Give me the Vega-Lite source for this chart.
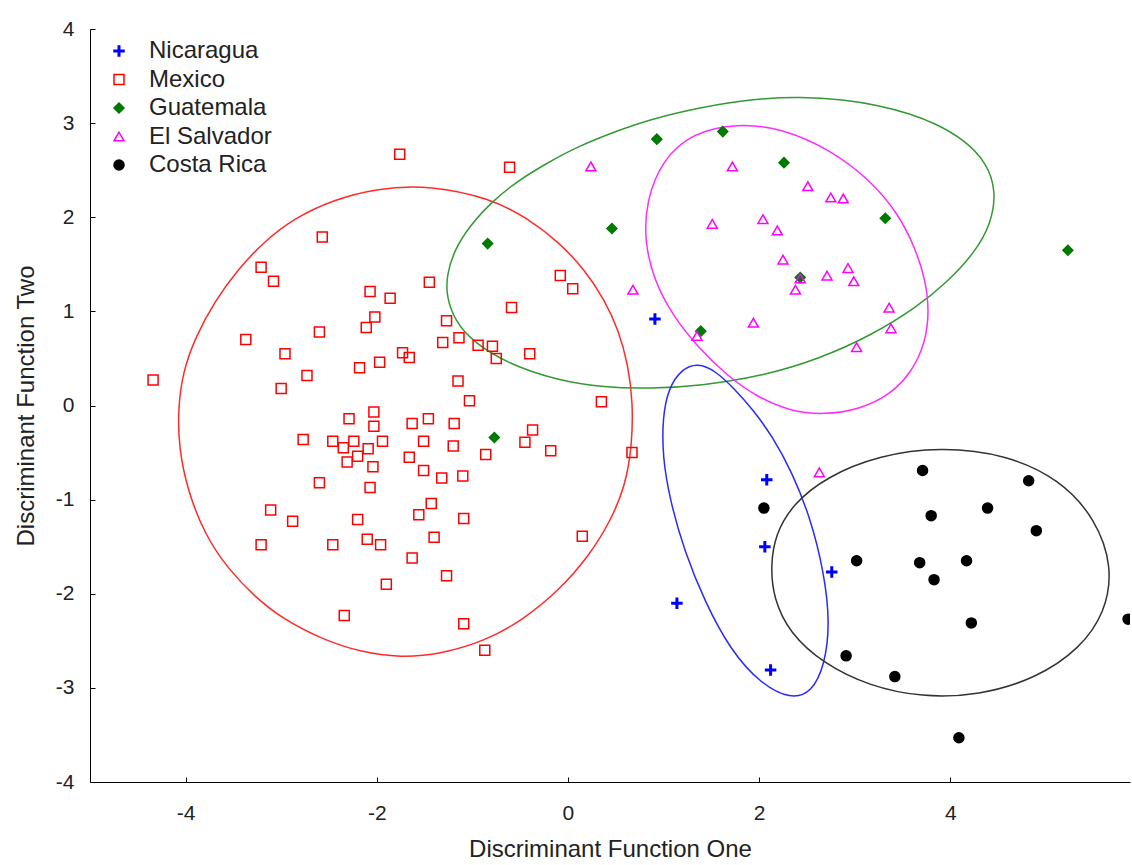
{
  "$schema": "https://vega.github.io/schema/vega-lite/v6.json",
  "width": 1040,
  "height": 753,
  "autosize": {"type": "none"},
  "padding": {"left": 90, "top": 29, "right": 2, "bottom": 83},
  "background": "white",
  "config": {
    "view": {"stroke": null},
    "font": "Liberation Sans",
    "axis": {
      "grid": false,
      "domainColor": "#000000",
      "domainWidth": 1,
      "tickColor": "#000000",
      "tickWidth": 1,
      "tickSize": -5,
      "labelFont": "Liberation Sans",
      "labelFontSize": 21,
      "labelColor": "#222222",
      "labelExpr": "'' + datum.value",
      "titleFont": "Liberation Sans",
      "titleFontSize": 24,
      "titleFontWeight": "normal",
      "titleColor": "#222222"
    },
    "legend": {
      "orient": "none",
      "legendX": 17,
      "legendY": 10,
      "labelFont": "Liberation Sans",
      "labelFontSize": 24,
      "labelColor": "#222222",
      "labelOffset": 18,
      "rowPadding": 4.5,
      "padding": 0,
      "symbolStrokeWidth": 1.5
    }
  },
  "datasets": {
    "points": [
      {"country": "Mexico", "x": -4.34, "y": 0.27},
      {"country": "Mexico", "x": -2.57, "y": 1.79},
      {"country": "Mexico", "x": -3.21, "y": 1.47},
      {"country": "Mexico", "x": -3.08, "y": 1.32},
      {"country": "Mexico", "x": -2.07, "y": 1.21},
      {"country": "Mexico", "x": -2.02, "y": 0.94},
      {"country": "Mexico", "x": -2.11, "y": 0.83},
      {"country": "Mexico", "x": -2.60, "y": 0.78},
      {"country": "Mexico", "x": -3.37, "y": 0.70},
      {"country": "Mexico", "x": -2.96, "y": 0.55},
      {"country": "Mexico", "x": -2.18, "y": 0.40},
      {"country": "Mexico", "x": -1.97, "y": 0.46},
      {"country": "Mexico", "x": -2.73, "y": 0.32},
      {"country": "Mexico", "x": -1.45, "y": 1.31},
      {"country": "Mexico", "x": -1.86, "y": 1.14},
      {"country": "Mexico", "x": -1.27, "y": 0.90},
      {"country": "Mexico", "x": -1.31, "y": 0.67},
      {"country": "Mexico", "x": -1.73, "y": 0.56},
      {"country": "Mexico", "x": -1.66, "y": 0.51},
      {"country": "Mexico", "x": -3.00, "y": 0.18},
      {"country": "Mexico", "x": -2.29, "y": -0.14},
      {"country": "Mexico", "x": -2.03, "y": -0.07},
      {"country": "Mexico", "x": -2.03, "y": -0.22},
      {"country": "Mexico", "x": -1.63, "y": -0.19},
      {"country": "Mexico", "x": -1.46, "y": -0.14},
      {"country": "Mexico", "x": -1.19, "y": -0.19},
      {"country": "Mexico", "x": -2.77, "y": -0.36},
      {"country": "Mexico", "x": -2.46, "y": -0.38},
      {"country": "Mexico", "x": -2.24, "y": -0.38},
      {"country": "Mexico", "x": -1.94, "y": -0.38},
      {"country": "Mexico", "x": -1.51, "y": -0.38},
      {"country": "Mexico", "x": -1.20, "y": -0.43},
      {"country": "Mexico", "x": -2.35, "y": -0.45},
      {"country": "Mexico", "x": -2.09, "y": -0.46},
      {"country": "Mexico", "x": -2.20, "y": -0.54},
      {"country": "Mexico", "x": -2.31, "y": -0.60},
      {"country": "Mexico", "x": -2.04, "y": -0.65},
      {"country": "Mexico", "x": -1.66, "y": -0.55},
      {"country": "Mexico", "x": -1.51, "y": -0.69},
      {"country": "Mexico", "x": -1.32, "y": -0.77},
      {"country": "Mexico", "x": -1.10, "y": -0.75},
      {"country": "Mexico", "x": -0.86, "y": -0.52},
      {"country": "Mexico", "x": -1.15, "y": 0.26},
      {"country": "Mexico", "x": -1.03, "y": 0.05},
      {"country": "Mexico", "x": -2.60, "y": -0.82},
      {"country": "Mexico", "x": -2.07, "y": -0.87},
      {"country": "Mexico", "x": -3.11, "y": -1.11},
      {"country": "Mexico", "x": -2.88, "y": -1.23},
      {"country": "Mexico", "x": -2.20, "y": -1.21},
      {"country": "Mexico", "x": -1.43, "y": -1.04},
      {"country": "Mexico", "x": -1.56, "y": -1.16},
      {"country": "Mexico", "x": -1.09, "y": -1.20},
      {"country": "Mexico", "x": -3.21, "y": -1.48},
      {"country": "Mexico", "x": -2.46, "y": -1.48},
      {"country": "Mexico", "x": -2.10, "y": -1.42},
      {"country": "Mexico", "x": -1.96, "y": -1.48},
      {"country": "Mexico", "x": -1.40, "y": -1.40},
      {"country": "Mexico", "x": -1.63, "y": -1.62},
      {"country": "Mexico", "x": -1.27, "y": -1.81},
      {"country": "Mexico", "x": -1.90, "y": -1.90},
      {"country": "Mexico", "x": -2.34, "y": -2.23},
      {"country": "Mexico", "x": -1.09, "y": -2.32},
      {"country": "Mexico", "x": 0.35, "y": 0.04},
      {"country": "Mexico", "x": -0.37, "y": -0.26},
      {"country": "Mexico", "x": -0.45, "y": -0.39},
      {"country": "Mexico", "x": -0.18, "y": -0.48},
      {"country": "Mexico", "x": 0.67, "y": -0.50},
      {"country": "Mexico", "x": 0.15, "y": -1.39},
      {"country": "Mexico", "x": -1.76, "y": 2.67},
      {"country": "Mexico", "x": -0.61, "y": 2.53},
      {"country": "Mexico", "x": -0.08, "y": 1.38},
      {"country": "Mexico", "x": 0.05, "y": 1.24},
      {"country": "Mexico", "x": -0.59, "y": 1.04},
      {"country": "Mexico", "x": -1.14, "y": 0.72},
      {"country": "Mexico", "x": -0.94, "y": 0.64},
      {"country": "Mexico", "x": -0.79, "y": 0.63},
      {"country": "Mexico", "x": -0.75, "y": 0.50},
      {"country": "Mexico", "x": -0.40, "y": 0.55},
      {"country": "Mexico", "x": -0.87, "y": -2.60},
      {"country": "Nicaragua", "x": 0.91, "y": 0.92},
      {"country": "Nicaragua", "x": 2.08, "y": -0.79},
      {"country": "Nicaragua", "x": 2.06, "y": -1.50},
      {"country": "Nicaragua", "x": 2.76, "y": -1.77},
      {"country": "Nicaragua", "x": 1.14, "y": -2.10},
      {"country": "Nicaragua", "x": 2.12, "y": -2.81},
      {"country": "Guatemala", "x": -0.84, "y": 1.72},
      {"country": "Guatemala", "x": -0.77, "y": -0.34},
      {"country": "Guatemala", "x": 0.46, "y": 1.88},
      {"country": "Guatemala", "x": 0.93, "y": 2.83},
      {"country": "Guatemala", "x": 1.62, "y": 2.91},
      {"country": "Guatemala", "x": 2.26, "y": 2.58},
      {"country": "Guatemala", "x": 3.32, "y": 1.99},
      {"country": "Guatemala", "x": 1.39, "y": 0.79},
      {"country": "Guatemala", "x": 2.43, "y": 1.36},
      {"country": "Guatemala", "x": 5.23, "y": 1.65},
      {"country": "El Salvador", "x": 0.24, "y": 2.54},
      {"country": "El Salvador", "x": 1.72, "y": 2.54},
      {"country": "El Salvador", "x": 2.51, "y": 2.33},
      {"country": "El Salvador", "x": 2.75, "y": 2.21},
      {"country": "El Salvador", "x": 2.88, "y": 2.20},
      {"country": "El Salvador", "x": 1.51, "y": 1.93},
      {"country": "El Salvador", "x": 2.04, "y": 1.98},
      {"country": "El Salvador", "x": 2.19, "y": 1.86},
      {"country": "El Salvador", "x": 2.25, "y": 1.55},
      {"country": "El Salvador", "x": 2.93, "y": 1.46},
      {"country": "El Salvador", "x": 2.71, "y": 1.38},
      {"country": "El Salvador", "x": 2.99, "y": 1.32},
      {"country": "El Salvador", "x": 2.43, "y": 1.35},
      {"country": "El Salvador", "x": 2.38, "y": 1.23},
      {"country": "El Salvador", "x": 0.68, "y": 1.23},
      {"country": "El Salvador", "x": 3.36, "y": 1.04},
      {"country": "El Salvador", "x": 3.38, "y": 0.82},
      {"country": "El Salvador", "x": 1.94, "y": 0.88},
      {"country": "El Salvador", "x": 1.35, "y": 0.74},
      {"country": "El Salvador", "x": 3.02, "y": 0.62},
      {"country": "El Salvador", "x": 2.63, "y": -0.71},
      {"country": "Costa Rica", "x": 3.71, "y": -0.69},
      {"country": "Costa Rica", "x": 4.82, "y": -0.80},
      {"country": "Costa Rica", "x": 2.05, "y": -1.09},
      {"country": "Costa Rica", "x": 4.39, "y": -1.09},
      {"country": "Costa Rica", "x": 3.80, "y": -1.17},
      {"country": "Costa Rica", "x": 4.90, "y": -1.33},
      {"country": "Costa Rica", "x": 3.02, "y": -1.65},
      {"country": "Costa Rica", "x": 3.68, "y": -1.67},
      {"country": "Costa Rica", "x": 4.17, "y": -1.65},
      {"country": "Costa Rica", "x": 3.83, "y": -1.85},
      {"country": "Costa Rica", "x": 4.22, "y": -2.31},
      {"country": "Costa Rica", "x": 5.86, "y": -2.27},
      {"country": "Costa Rica", "x": 2.91, "y": -2.66},
      {"country": "Costa Rica", "x": 3.42, "y": -2.88},
      {"country": "Costa Rica", "x": 4.09, "y": -3.53}
    ],
    "ellipses": [
      {"g": "Mexico", "i": 0, "x": -1.43, "y": 2.34},
      {"g": "Mexico", "i": 1, "x": -0.81, "y": 2.20},
      {"g": "Mexico", "i": 2, "x": -0.42, "y": 1.99},
      {"g": "Mexico", "i": 3, "x": -0.10, "y": 1.74},
      {"g": "Mexico", "i": 4, "x": 0.17, "y": 1.45},
      {"g": "Mexico", "i": 5, "x": 0.38, "y": 1.13},
      {"g": "Mexico", "i": 6, "x": 0.53, "y": 0.80},
      {"g": "Mexico", "i": 7, "x": 0.63, "y": 0.43},
      {"g": "Mexico", "i": 8, "x": 0.68, "y": 0.03},
      {"g": "Mexico", "i": 9, "x": 0.67, "y": -0.43},
      {"g": "Mexico", "i": 10, "x": 0.60, "y": -0.85},
      {"g": "Mexico", "i": 11, "x": 0.45, "y": -1.22},
      {"g": "Mexico", "i": 12, "x": 0.22, "y": -1.60},
      {"g": "Mexico", "i": 13, "x": -0.10, "y": -1.97},
      {"g": "Mexico", "i": 14, "x": -0.46, "y": -2.27},
      {"g": "Mexico", "i": 15, "x": -0.86, "y": -2.50},
      {"g": "Mexico", "i": 16, "x": -1.33, "y": -2.64},
      {"g": "Mexico", "i": 17, "x": -1.75, "y": -2.68},
      {"g": "Mexico", "i": 18, "x": -2.17, "y": -2.62},
      {"g": "Mexico", "i": 19, "x": -2.58, "y": -2.48},
      {"g": "Mexico", "i": 20, "x": -2.98, "y": -2.27},
      {"g": "Mexico", "i": 21, "x": -3.28, "y": -2.03},
      {"g": "Mexico", "i": 22, "x": -3.56, "y": -1.73},
      {"g": "Mexico", "i": 23, "x": -3.80, "y": -1.37},
      {"g": "Mexico", "i": 24, "x": -3.98, "y": -0.90},
      {"g": "Mexico", "i": 25, "x": -4.07, "y": -0.45},
      {"g": "Mexico", "i": 26, "x": -4.08, "y": -0.05},
      {"g": "Mexico", "i": 27, "x": -4.03, "y": 0.36},
      {"g": "Mexico", "i": 28, "x": -3.89, "y": 0.74},
      {"g": "Mexico", "i": 29, "x": -3.70, "y": 1.10},
      {"g": "Mexico", "i": 30, "x": -3.45, "y": 1.45},
      {"g": "Mexico", "i": 31, "x": -3.17, "y": 1.75},
      {"g": "Mexico", "i": 32, "x": -2.86, "y": 1.99},
      {"g": "Mexico", "i": 33, "x": -2.47, "y": 2.18},
      {"g": "Mexico", "i": 34, "x": -2.00, "y": 2.31},
      {"g": "Guatemala", "i": 0, "x": 0.52, "y": 2.92},
      {"g": "Guatemala", "i": 1, "x": 0.86, "y": 3.04},
      {"g": "Guatemala", "i": 2, "x": 1.39, "y": 3.17},
      {"g": "Guatemala", "i": 3, "x": 1.95, "y": 3.26},
      {"g": "Guatemala", "i": 4, "x": 2.44, "y": 3.28},
      {"g": "Guatemala", "i": 5, "x": 2.88, "y": 3.25},
      {"g": "Guatemala", "i": 6, "x": 3.25, "y": 3.19},
      {"g": "Guatemala", "i": 7, "x": 3.58, "y": 3.10},
      {"g": "Guatemala", "i": 8, "x": 3.86, "y": 2.99},
      {"g": "Guatemala", "i": 9, "x": 4.15, "y": 2.82},
      {"g": "Guatemala", "i": 10, "x": 4.38, "y": 2.58},
      {"g": "Guatemala", "i": 11, "x": 4.48, "y": 2.28},
      {"g": "Guatemala", "i": 12, "x": 4.43, "y": 1.94},
      {"g": "Guatemala", "i": 13, "x": 4.26, "y": 1.63},
      {"g": "Guatemala", "i": 14, "x": 3.98, "y": 1.32},
      {"g": "Guatemala", "i": 15, "x": 3.63, "y": 1.03},
      {"g": "Guatemala", "i": 16, "x": 3.20, "y": 0.76},
      {"g": "Guatemala", "i": 17, "x": 2.62, "y": 0.49},
      {"g": "Guatemala", "i": 18, "x": 2.02, "y": 0.31},
      {"g": "Guatemala", "i": 19, "x": 1.39, "y": 0.21},
      {"g": "Guatemala", "i": 20, "x": 0.87, "y": 0.18},
      {"g": "Guatemala", "i": 21, "x": 0.38, "y": 0.19},
      {"g": "Guatemala", "i": 22, "x": -0.12, "y": 0.27},
      {"g": "Guatemala", "i": 23, "x": -0.62, "y": 0.44},
      {"g": "Guatemala", "i": 24, "x": -1.00, "y": 0.68},
      {"g": "Guatemala", "i": 25, "x": -1.18, "y": 0.90},
      {"g": "Guatemala", "i": 26, "x": -1.27, "y": 1.15},
      {"g": "Guatemala", "i": 27, "x": -1.27, "y": 1.38},
      {"g": "Guatemala", "i": 28, "x": -1.19, "y": 1.65},
      {"g": "Guatemala", "i": 29, "x": -1.02, "y": 1.92},
      {"g": "Guatemala", "i": 30, "x": -0.80, "y": 2.16},
      {"g": "Guatemala", "i": 31, "x": -0.55, "y": 2.37},
      {"g": "Guatemala", "i": 32, "x": -0.23, "y": 2.57},
      {"g": "Guatemala", "i": 33, "x": 0.12, "y": 2.76},
      {"g": "El Salvador", "i": 0, "x": 1.78, "y": 3.00},
      {"g": "El Salvador", "i": 1, "x": 2.25, "y": 2.94},
      {"g": "El Salvador", "i": 2, "x": 2.74, "y": 2.72},
      {"g": "El Salvador", "i": 3, "x": 3.17, "y": 2.39},
      {"g": "El Salvador", "i": 4, "x": 3.46, "y": 2.03},
      {"g": "El Salvador", "i": 5, "x": 3.63, "y": 1.68},
      {"g": "El Salvador", "i": 6, "x": 3.74, "y": 1.34},
      {"g": "El Salvador", "i": 7, "x": 3.78, "y": 1.00},
      {"g": "El Salvador", "i": 8, "x": 3.74, "y": 0.67},
      {"g": "El Salvador", "i": 9, "x": 3.60, "y": 0.36},
      {"g": "El Salvador", "i": 10, "x": 3.38, "y": 0.12},
      {"g": "El Salvador", "i": 11, "x": 3.06, "y": -0.04},
      {"g": "El Salvador", "i": 12, "x": 2.68, "y": -0.10},
      {"g": "El Salvador", "i": 13, "x": 2.32, "y": -0.06},
      {"g": "El Salvador", "i": 14, "x": 1.98, "y": 0.09},
      {"g": "El Salvador", "i": 15, "x": 1.66, "y": 0.32},
      {"g": "El Salvador", "i": 16, "x": 1.36, "y": 0.62},
      {"g": "El Salvador", "i": 17, "x": 1.10, "y": 0.95},
      {"g": "El Salvador", "i": 18, "x": 0.90, "y": 1.33},
      {"g": "El Salvador", "i": 19, "x": 0.80, "y": 1.75},
      {"g": "El Salvador", "i": 20, "x": 0.82, "y": 2.17},
      {"g": "El Salvador", "i": 21, "x": 0.98, "y": 2.60},
      {"g": "El Salvador", "i": 22, "x": 1.30, "y": 2.90},
      {"g": "Nicaragua", "i": 0, "x": 1.36, "y": 0.45},
      {"g": "Nicaragua", "i": 1, "x": 1.54, "y": 0.37},
      {"g": "Nicaragua", "i": 2, "x": 1.73, "y": 0.19},
      {"g": "Nicaragua", "i": 3, "x": 1.94, "y": -0.05},
      {"g": "Nicaragua", "i": 4, "x": 2.14, "y": -0.33},
      {"g": "Nicaragua", "i": 5, "x": 2.34, "y": -0.70},
      {"g": "Nicaragua", "i": 6, "x": 2.54, "y": -1.20},
      {"g": "Nicaragua", "i": 7, "x": 2.68, "y": -1.78},
      {"g": "Nicaragua", "i": 8, "x": 2.74, "y": -2.30},
      {"g": "Nicaragua", "i": 9, "x": 2.69, "y": -2.75},
      {"g": "Nicaragua", "i": 10, "x": 2.55, "y": -3.05},
      {"g": "Nicaragua", "i": 11, "x": 2.33, "y": -3.12},
      {"g": "Nicaragua", "i": 12, "x": 2.02, "y": -2.96},
      {"g": "Nicaragua", "i": 13, "x": 1.70, "y": -2.60},
      {"g": "Nicaragua", "i": 14, "x": 1.43, "y": -2.08},
      {"g": "Nicaragua", "i": 15, "x": 1.22, "y": -1.55},
      {"g": "Nicaragua", "i": 16, "x": 1.07, "y": -1.02},
      {"g": "Nicaragua", "i": 17, "x": 0.99, "y": -0.55},
      {"g": "Nicaragua", "i": 18, "x": 0.99, "y": -0.13},
      {"g": "Nicaragua", "i": 19, "x": 1.05, "y": 0.18},
      {"g": "Nicaragua", "i": 20, "x": 1.19, "y": 0.39},
      {"g": "Costa Rica", "i": 0, "x": 3.90, "y": -0.44},
      {"g": "Costa Rica", "i": 1, "x": 4.58, "y": -0.52},
      {"g": "Costa Rica", "i": 2, "x": 5.14, "y": -0.78},
      {"g": "Costa Rica", "i": 3, "x": 5.52, "y": -1.20},
      {"g": "Costa Rica", "i": 4, "x": 5.70, "y": -1.72},
      {"g": "Costa Rica", "i": 5, "x": 5.62, "y": -2.20},
      {"g": "Costa Rica", "i": 6, "x": 5.36, "y": -2.58},
      {"g": "Costa Rica", "i": 7, "x": 4.90, "y": -2.90},
      {"g": "Costa Rica", "i": 8, "x": 4.30, "y": -3.08},
      {"g": "Costa Rica", "i": 9, "x": 3.70, "y": -3.10},
      {"g": "Costa Rica", "i": 10, "x": 3.15, "y": -2.98},
      {"g": "Costa Rica", "i": 11, "x": 2.67, "y": -2.74},
      {"g": "Costa Rica", "i": 12, "x": 2.32, "y": -2.42},
      {"g": "Costa Rica", "i": 13, "x": 2.15, "y": -2.05},
      {"g": "Costa Rica", "i": 14, "x": 2.12, "y": -1.70},
      {"g": "Costa Rica", "i": 15, "x": 2.17, "y": -1.37},
      {"g": "Costa Rica", "i": 16, "x": 2.35, "y": -1.05},
      {"g": "Costa Rica", "i": 17, "x": 2.70, "y": -0.76},
      {"g": "Costa Rica", "i": 18, "x": 3.25, "y": -0.53}
    ]
  },
  "encoding": {
    "x": {
      "field": "x",
      "type": "quantitative",
      "scale": {"domain": [-5, 5.88], "nice": false, "zero": false},
      "axis": {"title": "Discriminant Function One", "values": [-4, -2, 0, 2, 4], "labelPadding": 25, "titlePadding": 14}
    },
    "y": {
      "field": "y",
      "type": "quantitative",
      "scale": {"domain": [-4, 4], "nice": false, "zero": false},
      "axis": {"title": "Discriminant Function Two", "values": [-4, -3, -2, -1, 0, 1, 2, 3, 4], "labelPadding": 21, "titlePadding": 17}
    }
  },
  "layer": [
    {
      "data": {"name": "ellipses"},
      "transform": [{"filter": "datum.g === 'Mexico'"}],
      "mark": {"type": "line", "interpolate": "basis-closed", "stroke": "#ff2a2a", "strokeWidth": 1.5, "clip": true},
      "encoding": {"order": {"field": "i", "type": "quantitative"}}
    },
    {
      "data": {"name": "ellipses"},
      "transform": [{"filter": "datum.g === 'Guatemala'"}],
      "mark": {"type": "line", "interpolate": "basis-closed", "stroke": "#339933", "strokeWidth": 1.5, "clip": true},
      "encoding": {"order": {"field": "i", "type": "quantitative"}}
    },
    {
      "data": {"name": "ellipses"},
      "transform": [{"filter": "datum.g === 'El Salvador'"}],
      "mark": {"type": "line", "interpolate": "basis-closed", "stroke": "#ff2aff", "strokeWidth": 1.5, "clip": true},
      "encoding": {"order": {"field": "i", "type": "quantitative"}}
    },
    {
      "data": {"name": "ellipses"},
      "transform": [{"filter": "datum.g === 'Nicaragua'"}],
      "mark": {"type": "line", "interpolate": "basis-closed", "stroke": "#2a2aff", "strokeWidth": 1.5, "clip": true},
      "encoding": {"order": {"field": "i", "type": "quantitative"}}
    },
    {
      "data": {"name": "ellipses"},
      "transform": [{"filter": "datum.g === 'Costa Rica'"}],
      "mark": {"type": "line", "interpolate": "basis-closed", "stroke": "#333333", "strokeWidth": 1.5, "clip": true},
      "encoding": {"order": {"field": "i", "type": "quantitative"}}
    },
    {
      "data": {"name": "points"},
      "mark": {"type": "point", "strokeWidth": 1.5, "opacity": 1, "clip": true},
      "encoding": {
        "shape": {
          "field": "country", "type": "nominal",
          "scale": {
            "domain": ["Nicaragua", "Mexico", "Guatemala", "El Salvador", "Costa Rica"],
            "range": ["M-1,-0.15H-0.15V-1H0.15V-0.15H1V0.15H0.15V1H-0.15V0.15H-1Z", "square", "diamond", "triangle-up", "circle"]
          },
          "legend": {"title": null}
        },
        "stroke": {
          "field": "country", "type": "nominal",
          "scale": {
            "domain": ["Nicaragua", "Mexico", "Guatemala", "El Salvador", "Costa Rica"],
            "range": ["#0000ff", "#ff0000", "#007a00", "#ff00ff", "#000000"]
          },
          "legend": {"title": null}
        },
        "fill": {
          "field": "country", "type": "nominal",
          "scale": {
            "domain": ["Nicaragua", "Mexico", "Guatemala", "El Salvador", "Costa Rica"],
            "range": ["#0000ff", "transparent", "#007a00", "transparent", "#000000"]
          },
          "legend": {"title": null}
        },
        "size": {
          "field": "country", "type": "nominal",
          "scale": {
            "domain": ["Nicaragua", "Mexico", "Guatemala", "El Salvador", "Costa Rica"],
            "range": [100, 100, 90, 100, 60]
          },
          "legend": {"title": null}
        }
      }
    }
  ]
}
